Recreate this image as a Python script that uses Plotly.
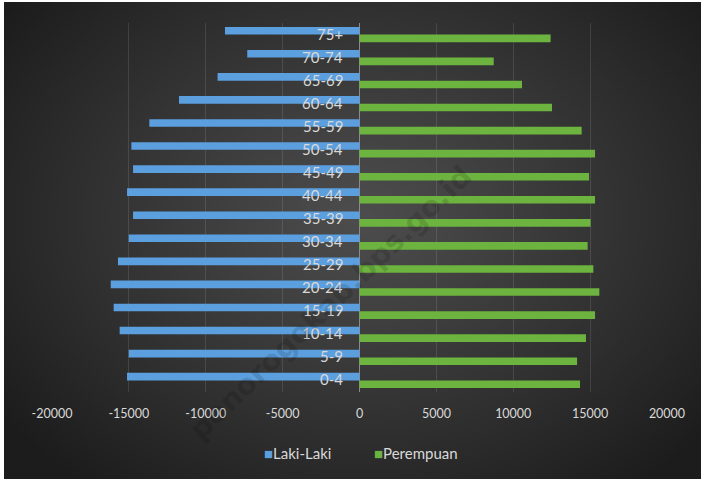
import base64
import struct
import zlib

import numpy as np
import plotly.graph_objects as go

# ---------------- data ----------------
age_groups = ["0-4", "5-9", "10-14", "15-19", "20-24", "25-29", "30-34", "35-39",
              "40-44", "45-49", "50-54", "55-59", "60-64", "65-69", "70-74", "75+"]
laki_laki = [15120, 15010, 15600, 15990, 16180, 15710, 15010, 14730,
             15120, 14730, 14840, 13670, 11740, 9230, 7300, 8750]
perempuan = [14340, 14150, 14730, 15320, 15600, 15210, 14840, 15030,
             15320, 14930, 15320, 14450, 12520, 10570, 8730, 12430]
x_ticks = [-20000, -15000, -10000, -5000, 0, 5000, 10000, 15000, 20000]
series_names = ["Laki-Laki", "Perempuan"]
series_colors = ["#5b9fdf", "#6db33f"]

# ---------------- geometry ----------------
W, H = 703, 481
ML, MR, MT, MB = 52, 36, 23, 89
PW, PH = W - ML - MR, H - MT - MB


def px_to_paper_x(px):
    return (px - ML) / PW


def px_to_paper_y(py):
    return (H - MB - py) / PH


# ---------------- radial gradient background (PNG, built in memory) ----------------
def make_png(arr):
    h, w, _ = arr.shape
    raw = b"".join(b"\x00" + arr[i].tobytes() for i in range(h))

    def chunk(tag, data):
        return (struct.pack(">I", len(data)) + tag + data
                + struct.pack(">I", zlib.crc32(tag + data) & 0xFFFFFFFF))

    return (b"\x89PNG\r\n\x1a\n"
            + chunk(b"IHDR", struct.pack(">IIBBBBB", w, h, 8, 2, 0, 0, 0))
            + chunk(b"IDAT", zlib.compress(raw, 9))
            + chunk(b"IEND", b""))


bx0, by0, bx1, by1 = 4, 2, 701, 479
gw, gh = (bx1 - bx0) // 2, (by1 - by0) // 2
yy, xx = np.mgrid[0:gh, 0:gw]
xs = bx0 + xx * 2.0
ys = by0 + yy * 2.0
d = np.sqrt(((xs - 360) / 390.0) ** 2 + ((ys - 215) / 300.0) ** 2)
val = 77 - 42 * np.clip(d, 0, 1.15) ** 1.1
val = np.clip(val, 28, 80).astype(np.uint8)
img = np.stack([val, val, val], axis=-1)
bg_uri = "data:image/png;base64," + base64.b64encode(make_png(img)).decode()

# ---------------- figure ----------------
fig = go.Figure()

fig.add_trace(go.Bar(
    y=age_groups, x=perempuan, orientation="h", name=series_names[1],
    marker=dict(color=series_colors[1], line=dict(width=0)),
))
fig.add_trace(go.Bar(
    y=age_groups, x=[-v for v in laki_laki], orientation="h", name=series_names[0],
    marker=dict(color=series_colors[0], line=dict(width=0)),
))

annotations = []
for g in age_groups:
    annotations.append(dict(
        x=0, y=g, xref="x", yref="y", text=g, showarrow=False,
        xanchor="right", yanchor="middle", xshift=-15, yshift=1,
        font=dict(family="Lato", size=15, color="#d9d9d9"),
    ))

# legend (drawn as text so the small square markers match the original)
legend_x = [262, 372]
for name, color, lx in zip(series_names, series_colors, legend_x):
    annotations.append(dict(
        x=px_to_paper_x(lx), y=px_to_paper_y(453), xref="paper", yref="paper",
        text=f'<span style="color:{color}">■</span>{name}', showarrow=False,
        xanchor="left", yanchor="middle",
        font=dict(family="Lato", size=15, color="#d9d9d9"),
    ))

# watermark
annotations.append(dict(
    x=px_to_paper_x(330), y=px_to_paper_y(303), xref="paper", yref="paper",
    text="<b>ponorogokab.bps.go.id</b>", showarrow=False, textangle=-44,
    font=dict(family="DejaVu Sans", size=29, color="rgba(0,0,0,0.13)"),
    xanchor="center", yanchor="middle",
))

fig.update_layout(
    width=W, height=H,
    margin=dict(l=ML, r=MR, t=MT, b=MB, pad=0),
    paper_bgcolor="white",
    plot_bgcolor="rgba(0,0,0,0)",
    barmode="group",
    bargap=0.34,
    bargroupgap=0,
    showlegend=False,
    xaxis=dict(
        range=[-20000, 20000], tickvals=x_ticks,
        ticktext=[str(v) for v in x_ticks],
        showgrid=True, gridcolor="rgba(255,255,255,0.11)", gridwidth=1,
        zeroline=True, zerolinecolor="#8a8a8a", zerolinewidth=1,
        showline=False, ticks="", ticklabelstandoff=12,
        tickfont=dict(family="Lato", size=12.5, color="#d9d9d9"),
        fixedrange=True,
    ),
    yaxis=dict(
        categoryorder="array", categoryarray=age_groups,
        range=[-0.5, len(age_groups) - 0.5],
        showticklabels=False, showgrid=False, zeroline=False, showline=False,
        ticks="", fixedrange=True,
    ),
    annotations=annotations,
    images=[dict(
        source=bg_uri, xref="paper", yref="paper",
        x=px_to_paper_x(bx0), y=px_to_paper_y(by0),
        sizex=(bx1 - bx0) / PW, sizey=(by1 - by0) / PH,
        xanchor="left", yanchor="top", sizing="stretch", layer="below",
    )],
)

fig.write_html(
    "out.html",
    config={"displayModeBar": False},
    post_script="document.body.style.margin='0';",
)
